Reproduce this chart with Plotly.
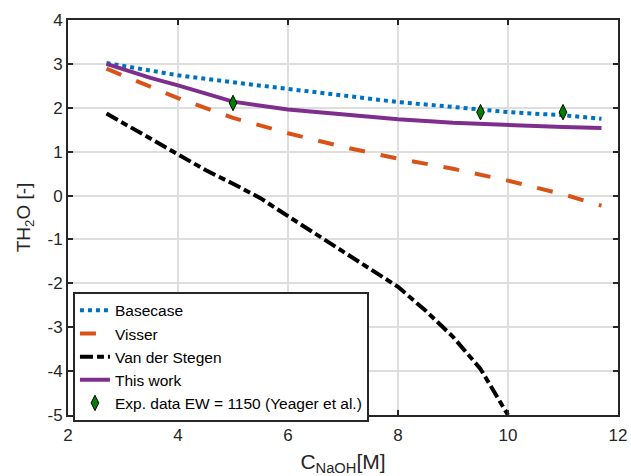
import plotly.graph_objects as go

# NaOH concentration grid (M) for the model curves
conc = [2.7, 3.5, 4.0, 5.0, 6.0, 7.0, 8.0, 9.0, 10.0, 11.0, 11.7]

# Water uptake TH2O [-] per model
basecase = [3.02, 2.85, 2.74, 2.58, 2.43, 2.27, 2.13, 2.02, 1.90, 1.83, 1.75]
visser = [2.89, 2.47, 2.22, 1.77, 1.42, 1.11, 0.84, 0.61, 0.34, 0.03, -0.23]
this_work = [3.00, 2.68, 2.51, 2.14, 1.96, 1.84, 1.74, 1.66, 1.60, 1.56, 1.54]

# Van der Stegen model on its own concentration grid
conc_vds = [2.7, 3.5, 4.0, 4.5, 5.0, 5.5, 6.0, 6.5, 7.0, 7.5, 8.0, 8.5, 9.0, 9.5, 10.0]
vds = [1.87, 1.30, 0.93, 0.58, 0.27, -0.06, -0.47, -0.87, -1.27, -1.67, -2.08, -2.62, -3.22, -3.95, -5.0]

# Experimental points, EW = 1150 (Yeager et al.)
exp_conc = [5.0, 9.5, 11.0]
exp_th2o = [2.11, 1.90, 1.90]

# Tick positions and labels (plain hyphen for negatives)
x_ticks = [2, 4, 6, 8, 10, 12]
y_ticks = [-5, -4, -3, -2, -1, 0, 1, 2, 3, 4]
y_labels = [str(v) for v in y_ticks]

AXIS_COLOR = "#262626"
GRID_COLOR = "#dedede"
FONT = "Liberation Sans, Arial, sans-serif"

fig = go.Figure()
fig.add_trace(go.Scatter(x=conc, y=basecase, mode="lines", name="Basecase",
                         line=dict(color="#0072BD", width=4, dash="4px,4px")))
fig.add_trace(go.Scatter(x=conc, y=visser, mode="lines", name="Visser",
                         line=dict(color="#D95319", width=4, dash="16px,16px")))
fig.add_trace(go.Scatter(x=conc_vds, y=vds, mode="lines", name="Van der Stegen",
                         line=dict(color="#000000", width=4, dash="13px,4px,7px,4px")))
fig.add_trace(go.Scatter(x=conc, y=this_work, mode="lines", name="This work",
                         line=dict(color="#7E2F8E", width=4)))
fig.add_trace(go.Scatter(x=exp_conc, y=exp_th2o, mode="markers",
                         name="Exp. data EW = 1150 (Yeager et al.)",
                         marker=dict(symbol="diamond-tall", size=11, color="#008000",
                                     line=dict(color="#000000", width=1))))

axis_common = dict(
    showline=True, linecolor=AXIS_COLOR, linewidth=2, mirror="ticks",
    ticks="inside", ticklen=5, tickwidth=2, tickcolor=AXIS_COLOR,
    showgrid=True, gridcolor=GRID_COLOR, gridwidth=2, zeroline=False,
    tickfont=dict(family=FONT, size=17, color=AXIS_COLOR),
)

fig.update_xaxes(range=[2, 12], tickmode="array", tickvals=x_ticks,
                 ticktext=[str(v) for v in x_ticks], ticklabelstandoff=4,
                 automargin=False,
                 title=dict(text="C<sub>NaOH</sub>[M]",
                            font=dict(family=FONT, size=21, color=AXIS_COLOR),
                            standoff=15),
                 **axis_common)
fig.update_yaxes(range=[-5, 4], tickmode="array", tickvals=y_ticks,
                 ticktext=y_labels,
                 title=dict(text="TH<sub>2</sub>O [-]",
                            font=dict(family=FONT, size=19, color=AXIS_COLOR),
                            standoff=12),
                 **axis_common)

fig.update_layout(
    width=631, height=476,
    margin=dict(l=68, r=11, t=17, b=61),
    paper_bgcolor="white", plot_bgcolor="white",
    font=dict(family=FONT, color=AXIS_COLOR),
    legend=dict(x=0.009, y=0.312, xanchor="left", yanchor="top",
                bgcolor="white", bordercolor=AXIS_COLOR, borderwidth=2,
                font=dict(family=FONT, size=15.5, color="#000000"),
                itemwidth=30, tracegroupgap=0),
)

fig.write_html("out.html")
